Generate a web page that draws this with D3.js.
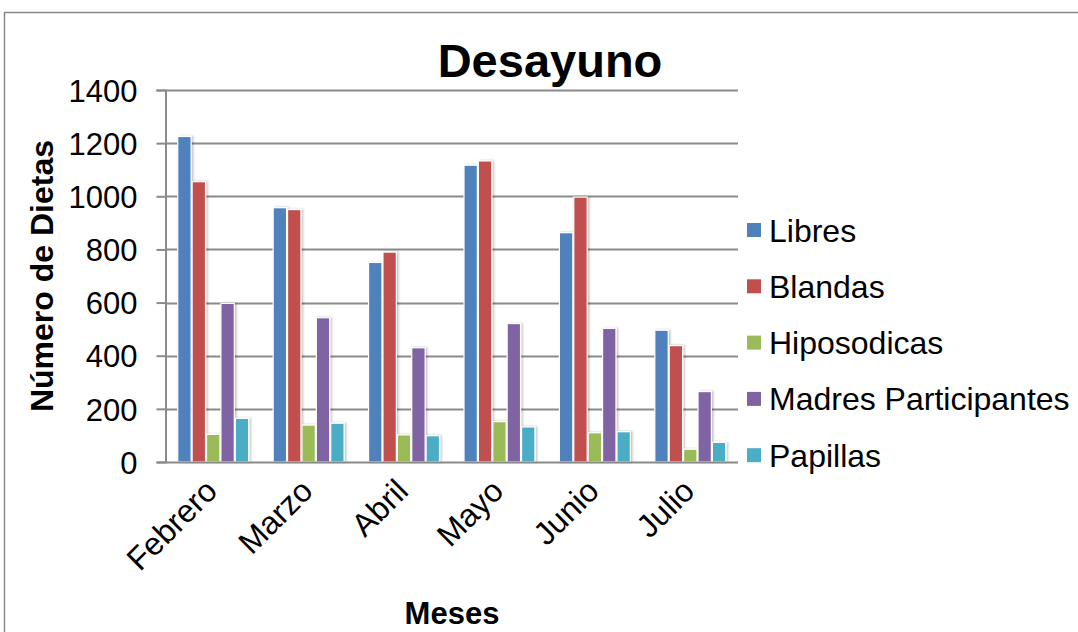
<!DOCTYPE html>
<html>
<head>
<meta charset="utf-8">
<script src="https://cdn.jsdelivr.net/npm/d3@7"></script>
<style>
  body { margin: 0; background: #fff; }
  text { font-family: Arial, "Liberation Sans", sans-serif; fill: #000; }
</style>
</head>
<body>
<div id="chart"></div>
<script>
const width = 1078, height = 632;

// data
const meses = ['Febrero', 'Marzo', 'Abril', 'Mayo', 'Junio', 'Julio'];
const series = ['Libres', 'Blandas', 'Hiposodicas', 'Madres Participantes', 'Papillas'];
const libres      = [1225, 957, 751, 1117, 863, 496];
const blandas     = [1055, 950, 790, 1133, 997, 438];
const hiposodicas = [104, 139, 102, 152, 110, 48];
const madres      = [597, 543, 430, 521, 503, 265];
const papillas    = [164, 146, 99, 132, 114, 74];
const yTicks = [0, 200, 400, 600, 800, 1000, 1200, 1400];
const colors = ['#4F81BD', '#C0504D', '#9BBB59', '#8064A2', '#4BACC6'];

const values = [libres, blandas, hiposodicas, madres, papillas];
const fontSize = '31px';

const svg = d3.select('#chart').append('svg')
    .attr('width', width).attr('height', height);

// soft shadow like the office chart
const defs = svg.append('defs');
const f = defs.append('filter').attr('id', 'shadow')
    .attr('x', '-30%').attr('y', '-10%').attr('width', '160%').attr('height', '120%');
f.append('feDropShadow').attr('dx', 1.5).attr('dy', 0).attr('stdDeviation', 1.2)
    .attr('flood-color', '#000').attr('flood-opacity', 0.25);

// chart frame
svg.append('rect')
    .attr('x', 4.5).attr('y', 12.5)
    .attr('width', width + 10).attr('height', height + 10)
    .attr('fill', 'none').attr('stroke', '#878787').attr('stroke-width', 1.5);

const plot = {left: 165.5, right: 738, top: 90, bottom: 462};

const x0 = d3.scaleBand().domain(meses).range([plot.left, plot.right]).padding(0);
const gap = x0.bandwidth() * 0.123;
const x1 = d3.scaleBand().domain(series).range([gap, x0.bandwidth() - gap]).padding(0);
const y = d3.scaleLinear().domain([0, 1400]).range([plot.bottom, plot.top]);

// gridlines
svg.append('g').selectAll('line')
    .data(yTicks.filter(d => d > 0))
    .enter().append('line')
    .attr('x1', plot.left).attr('x2', plot.right)
    .attr('y1', d => Math.round(y(d)) + 0.5).attr('y2', d => Math.round(y(d)) + 0.5)
    .attr('stroke', '#8a8a8a').attr('stroke-width', 2);

// y axis
const yAxis = svg.append('g')
    .attr('transform', 'translate(' + plot.left + ',0)')
    .call(d3.axisLeft(y).tickValues(yTicks).tickFormat(d3.format('d')).tickSize(9).tickPadding(19));
yAxis.select('.domain').attr('stroke', '#8a8a8a').attr('stroke-width', 2);
yAxis.selectAll('.tick line').attr('stroke', '#8a8a8a').attr('stroke-width', 2);
yAxis.selectAll('.tick text')
    .style('font-size', fontSize).attr('dy', '0.36em')
    .style('font-family', 'Arial, "Liberation Sans", sans-serif').attr('fill', '#000');

// bars
const groups = svg.append('g').selectAll('g')
    .data(meses)
    .enter().append('g')
    .attr('transform', d => 'translate(' + x0(d) + ',0)');

groups.selectAll('rect')
    .data((m, i) => series.map((s, j) => ({serie: s, value: values[j][i], color: colors[j]})))
    .enter().append('rect')
    .attr('x', d => x1(d.serie) + 0.5)
    .attr('width', x1.bandwidth() - 1)
    .attr('y', d => y(d.value))
    .attr('height', d => y(0) - y(d.value))
    .attr('fill', d => d.color)
    .attr('stroke', '#fff').attr('stroke-width', 1.2)
    .attr('filter', 'url(#shadow)');

// x axis line
svg.append('line')
    .attr('x1', plot.left).attr('x2', plot.right)
    .attr('y1', plot.bottom + 0.5).attr('y2', plot.bottom + 0.5)
    .attr('stroke', '#8a8a8a').attr('stroke-width', 2);

// category labels
svg.append('g').selectAll('text')
    .data(meses)
    .enter().append('text')
    .attr('transform', d => 'translate(' + (x0(d) + x0.bandwidth() / 2 + 6) + ',' + 493 + ') rotate(-45)')
    .attr('text-anchor', 'end')
    .style('font-size', '32px')
    .text(d => d);

// titles
svg.append('text')
    .attr('x', 550).attr('y', 77)
    .attr('text-anchor', 'middle')
    .style('font-size', '47px').style('font-weight', 'bold')
    .text('Desayuno');

svg.append('text')
    .attr('transform', 'translate(53,276) rotate(-90)')
    .attr('text-anchor', 'middle')
    .style('font-size', '32px').style('font-weight', 'bold')
    .text('Número de Dietas');

svg.append('text')
    .attr('x', 452).attr('y', 624)
    .attr('text-anchor', 'middle')
    .style('font-size', '31px').style('font-weight', 'bold')
    .text('Meses');

// legend
const legend = svg.append('g').selectAll('g')
    .data(series)
    .enter().append('g')
    .attr('transform', (d, i) => 'translate(747,' + (230 + i * 56.3) + ')');

legend.append('rect')
    .attr('x', 0).attr('y', -7).attr('width', 14).attr('height', 14)
    .attr('fill', (d, i) => colors[i]);

legend.append('text')
    .attr('x', 22).attr('dy', '0.36em')
    .style('font-size', '32px')
    .text(d => d);
</script>
</body>
</html>
